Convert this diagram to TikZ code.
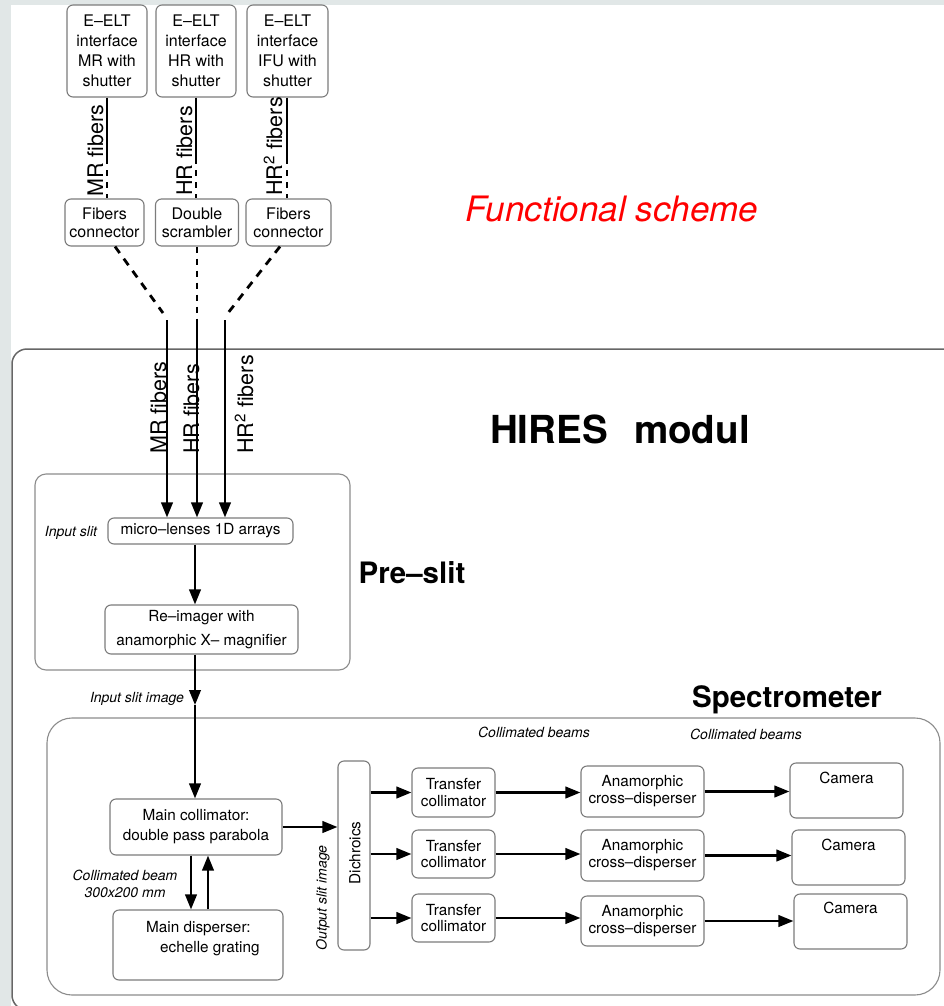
\documentclass[tikz,border=0pt]{standalone}
\usepackage{fontspec}
\setmainfont{TeX Gyre Heros}
\usetikzlibrary{arrows.meta,calc}

\definecolor{strip}{HTML}{E1E7E7}
\definecolor{edge}{HTML}{7C7C7C}
\definecolor{outer}{HTML}{666666}
\definecolor{inner}{HTML}{8C8C8C}

\newcommand\fsz[2]{\fontsize{#1}{#2}\selectfont}

\begin{document}
\begin{tikzpicture}[x=1pt,y=-1pt,
  box/.style={draw=edge, line width=1.1pt, rounded corners=6pt, inner sep=0pt,
              align=center, font=\fsz{15.3}{20}},
  topbox/.style={box, font=\fsz{16}{20}},
  txt/.style={inner sep=0pt, font=\fsz{15.3}{20}},
  note/.style={inner sep=0pt, font=\fsz{14}{17}\itshape, align=center},
  rotlbl/.style={inner sep=0pt, rotate=90, anchor=base west, font=\fsz{21.5}{24}},
  title/.style={inner sep=0pt, anchor=base, font=\fsz{29.5}{34}\bfseries},
  link/.style={line width=2pt},
  linkdash/.style={line width=2pt, dash pattern=on 6pt off 6pt},
  fatdash/.style={line width=2.8pt, dash pattern=on 8pt off 7pt},
  arr/.style={line width=2.4pt, -{Triangle[length=15pt,width=11.5pt]}},
]
\useasboundingbox (0,0) rectangle (944,1006);
\clip (0,0) rectangle (944,1006);
\fill[white] (0,0) rectangle (944,1006);
\fill[strip] (0,0) rectangle (944,5);
\fill[strip] (0,0) rectangle (11,1006);

% ---- telescope interfaces ----
\node[topbox, minimum width=80pt, minimum height=92pt] (ifmr) at (107,51)
  {E–ELT\\interface\\MR with\\shutter};
\node[topbox, minimum width=80pt, minimum height=92pt] (ifhr) at (196,51)
  {E–ELT\\interface\\HR with\\shutter};
\node[topbox, minimum width=81pt, minimum height=92pt] (ififu) at (287.5,51)
  {E–ELT\\interface\\IFU with\\shutter};

\node[topbox, font=\fsz{16}{18}, minimum width=79pt, minimum height=47pt] (conmr) at (104.5,222.5)
  {Fibers\\connector};
\node[topbox, font=\fsz{16}{18}, minimum width=83pt, minimum height=47pt] (scr) at (197,222.5)
  {Double\\scrambler};
\node[topbox, font=\fsz{16}{18}, minimum width=85pt, minimum height=47pt] (conhr) at (288.5,222.5)
  {Fibers\\connector};

% fibre runs: solid, then dashed into the connectors
\coordinate (k1) at (107,158);
\coordinate (k2) at (196,158);
\coordinate (k3) at (287,158);
\draw[link] (ifmr.south) -- (k1);
\draw[link] (ifhr.south) -- (k2);
\draw[link] (k3 |- ififu.south) -- (k3);
\draw[linkdash] (k1) -- (k1 |- conmr.north);
\draw[linkdash] (k2) -- (k2 |- scr.north);
\draw[linkdash] (k3) -- (k3 |- conhr.north);

\node[rotlbl] (lmra) at (103,197) {MR fibers};
\node[rotlbl] (lhra) at (192,196) {HR fibers};
\node[rotlbl] (lhrba) at (282,196) {HR\textsuperscript{2} fibers};

% fibres converging towards the instrument
\coordinate (f1) at (167,320);
\coordinate (f2) at (197,320);
\coordinate (f3) at (225,320);
\draw[fatdash] ([xshift=10.5pt]conmr.south) -- (163,313);
\draw[linkdash] (scr.south) -- (scr.south |- f2);
\draw[fatdash] ([xshift=-8.5pt]conhr.south) -- (228,313);

\node[font=\fsz{35}{40}\itshape, text=red, inner sep=0pt, anchor=base] (fs) at (612,221)
  {Functional scheme};

% ---- HIRES module ----
\node[draw=outer, line width=1.5pt, rounded corners=15pt, minimum width=963pt,
      minimum height=661pt, inner sep=0pt] (hires) at (493.5,679.5) {};
\node[title, font=\fsz{38.6}{44}\bfseries] (hm) at (620,443) {HIRES\hspace{26pt}modul};

\node[rotlbl] (lmrb) at (166,454) {MR fibers};
\node[rotlbl] (lhrb) at (199,454) {HR fibers};
\node[rotlbl] (lhrbb) at (253,454) {HR\textsuperscript{2} fibers};

% pre-slit
\node[draw=inner, line width=1.1pt, rounded corners=11pt, minimum width=315pt,
      minimum height=196pt, inner sep=0pt] (pre) at (192.5,572) {};
\node[title] (pst) at (412,583) {Pre–slit};

\node[box, minimum width=185pt, minimum height=26pt] (ml) at (200.5,531)
  {micro–lenses 1D arrays};
\node[note] (insl) at (71,533) {Input slit};
\node[box, font=\fsz{15.3}{24}, minimum width=193pt, minimum height=49pt] (ri) at (201.5,629.5)
  {Re–imager with\\anamorphic X– magnifier};

\draw[arr] (f1) -- (f1 |- ml.north);
\draw[arr] (f2) -- (f2 |- ml.north);
\draw[arr] (f3) -- (f3 |- ml.north);
\draw[arr] ([xshift=-5.5pt]ml.south) -- ([xshift=-5.5pt]ml.south |- ri.north);

% spectrometer
\node[draw=inner, line width=1.1pt, rounded corners=25pt, minimum width=893pt,
      minimum height=277pt, inner sep=0pt] (spec) at (493.5,856.5) {};
\node[title] (spt) at (787,707) {Spectrometer};

\node[box, minimum width=172pt, minimum height=56pt] (mc) at (196,827)
  {Main collimator:\\double pass parabola};
\node[box, minimum width=170pt, minimum height=70pt] (md) at (198,945) {};
\node[txt, anchor=north west, align=left] (mdt) at (146,921)
  {Main disperser:\\\hspace*{14pt}echelle grating};

\coordinate (isi) at (195,705);
\draw[arr] ([xshift=-6.5pt]ri.south) -- (isi);
\draw[arr] (isi) -- (isi |- mc.north);
\node[note, anchor=base] (isil) at (137,702) {Input slit image};

\draw[arr] ([xshift=-5pt]mc.south) -- ([xshift=-5pt]mc.south |- md.north);
\draw[arr] ([xshift=12pt]mc.south |- md.north) -- ([xshift=12pt]mc.south);
\node[note] (cbl) at (125,883.5) {Collimated beam\\300x200 mm};

\node[box, minimum width=32pt, minimum height=189pt] (di) at (354,855.5) {};
\node[txt, rotate=90] (dit) at (355,853) {Dichroics};
\node[note, rotate=90] (osi) at (323,898) {Output slit image};
\draw[arr] (mc.east) -- (mc.east -| di.west);

\node[box, font=\fsz{15.3}{16.5}, minimum width=83pt, minimum height=49pt] (t1) at (453.5,792.5)
  {Transfer\\collimator};
\node[box, font=\fsz{15.3}{16.5}, minimum width=83pt, minimum height=48pt] (t2) at (453.5,854)
  {Transfer\\collimator};
\node[box, font=\fsz{15.3}{16.5}, minimum width=83pt, minimum height=48pt] (t3) at (453.5,918)
  {Transfer\\collimator};

\node[box, font=\fsz{15.3}{17}, minimum width=123pt, minimum height=51pt] (a1) at (642.5,791.5)
  {Anamorphic\\cross–disperser};
\node[box, font=\fsz{15.3}{17}, minimum width=123pt, minimum height=51pt] (a2) at (642.5,855.5)
  {Anamorphic\\cross–disperser};
\node[box, font=\fsz{15.3}{17}, minimum width=123pt, minimum height=50pt] (a3) at (642.5,921)
  {Anamorphic\\cross–disperser};

\node[box, minimum width=113pt, minimum height=55pt] (c1) at (846.5,790.5) {};
\node[box, minimum width=113pt, minimum height=55pt] (c2) at (848.5,857.5) {};
\node[box, minimum width=113pt, minimum height=55pt] (c3) at (850.5,921.5) {};
\node[txt, anchor=base] (c1t) at ([yshift=-21.5pt]c1.north) {Camera};
\node[txt, anchor=base] (c2t) at ([yshift=-21.5pt]c2.north) {Camera};
\node[txt, anchor=base] (c3t) at ([yshift=-20.5pt]c3.north) {Camera};

\node[note] (cb1) at (534,732) {Collimated beams};
\node[note] (cb2) at (746,734) {Collimated beams};

\foreach \r in {1,2,3}{
  \draw[arr] (di.east |- t\r.west) -- (t\r.west);
  \draw[arr] (t\r.east) -- (t\r.east -| a\r.west);
  \draw[arr] (a\r.east) -- (a\r.east -| c\r.west);
}
\end{tikzpicture}
\end{document}
